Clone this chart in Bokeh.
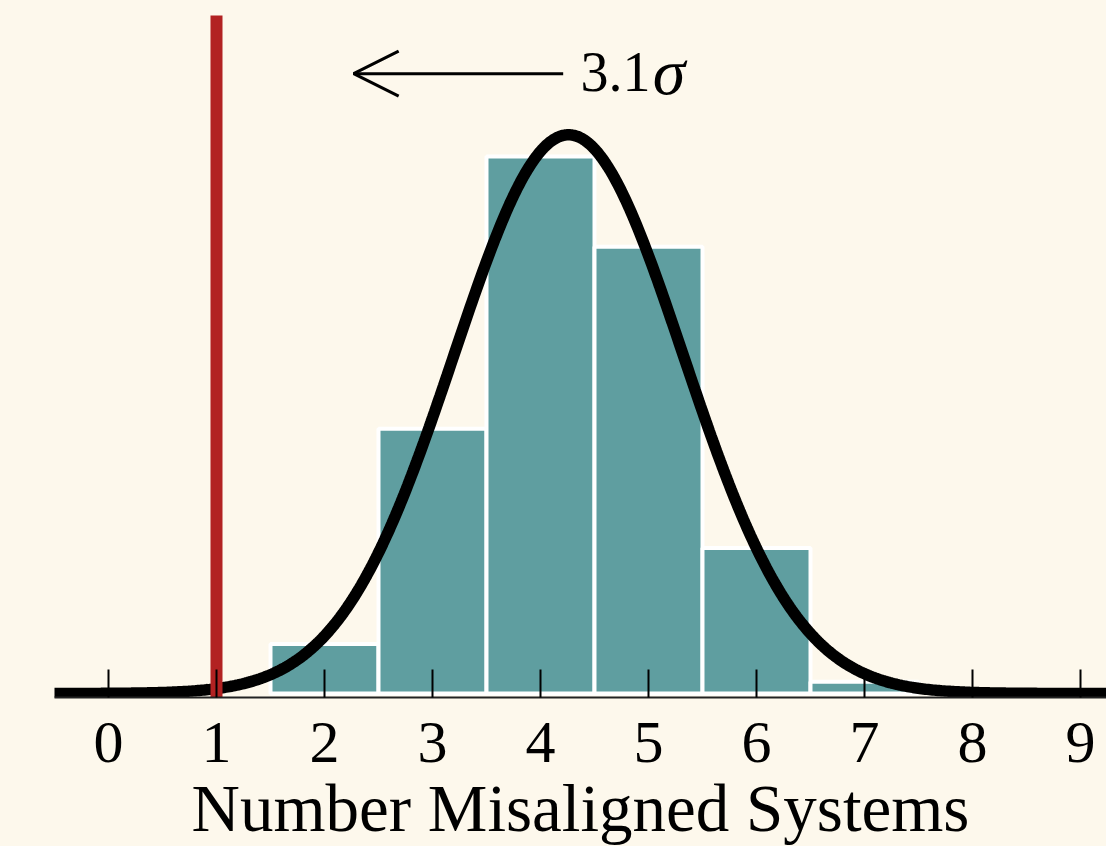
import numpy as np
from bokeh.plotting import figure
from bokeh.models import Range1d, FixedTicker, Arrow, OpenHead, ColumnDataSource
from bokeh.core.properties import value
from bokeh.embed import file_html
from bokeh.resources import INLINE

# ---- data ----
systems = [2, 3, 4, 5, 6, 7]
fraction = [0.034, 0.182, 0.369, 0.307, 0.100, 0.008]
tick_values = [0, 1, 2, 3, 4, 5, 6, 7, 8, 9]
tick_labels = ["0", "1", "2", "3", "4", "5", "6", "7", "8", "9"]
fit_mean = 4.26
fit_sigma = 1.06
fit_peak = 0.384
observed = 1
sigma_text = "3.1"

BG = "#fdf8ec"
FONT = "Liberation Serif"

p = figure(width=1106, height=846, frame_width=1052, frame_height=689,
           output_backend="svg", toolbar_location=None,
           x_range=Range1d(-0.5, 9.2407), y_range=Range1d(-4 / 1455, 685 / 1455),
           y_axis_location=None, min_border_left=54, min_border_right=0,
           min_border_top=8, min_border_bottom=0)
p.background_fill_color = BG
p.border_fill_color = BG
p.outline_line_color = None
p.grid.visible = False

src = ColumnDataSource(dict(x=systems, top=fraction))
p.vbar(x="x", top="top", bottom=0, width=1.0, source=src,
       fill_color="#5f9ea0", line_color="white", line_width=4)

xs = np.linspace(-0.6, 9.3, 600)
ys = fit_peak * np.exp(-0.5 * ((xs - fit_mean) / fit_sigma) ** 2)
p.line(xs, ys, line_color="black", line_width=11.5)

p.segment(x0=[observed], y0=[-4 / 1455], x1=[observed], y1=[0.466],
          line_color="#b22222", line_width=12, line_cap="butt")

p.add_layout(Arrow(end=OpenHead(size=45, line_width=3, line_color="black"),
                   x_start=4.21, y_start=0.426, x_end=2.27, y_end=0.426,
                   line_width=3, line_color="black"))
p.text(x=[4.37], y=[0.4274], text=[sigma_text], text_font=value(FONT),
       text_font_size="56px", text_baseline="alphabetic", text_align="left", text_color="black")
p.text(x=[5.04], y=[0.4274], text=["σ"], text_font=value(FONT), text_font_style="italic",
       text_font_size="66px", text_baseline="alphabetic", text_align="left", text_color="black")

ax = p.xaxis[0]
ax.ticker = FixedTicker(ticks=tick_values)
ax.major_label_overrides = {v: l for v, l in zip(tick_values, tick_labels)}
ax.minor_tick_line_color = None
ax.major_tick_in = 28
ax.major_tick_out = 0
ax.major_tick_line_width = 2
ax.major_tick_line_color = "black"
ax.axis_line_color = "#222222"
ax.axis_line_width = 2
ax.major_label_text_font = FONT
ax.major_label_text_font_size = "60px"
ax.major_label_text_color = "black"
ax.major_label_standoff = 25
ax.axis_label = "Number Misaligned Systems"
ax.axis_label_text_font = FONT
ax.axis_label_text_font_size = "67px"
ax.axis_label_text_font_style = "normal"
ax.axis_label_text_color = "black"
ax.axis_label_standoff = 6

html = file_html(p, INLINE)
html = html.replace("</head>", "<style>html, body { background-color: %s; }</style>\n</head>" % BG, 1)
open("out.html", "w").write(html)
